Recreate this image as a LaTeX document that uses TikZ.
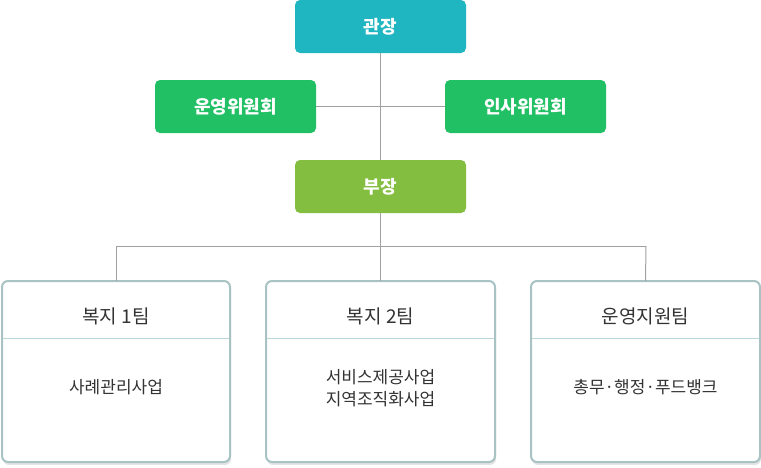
\documentclass[tikz,border=0pt]{standalone}
\usepackage{fontspec}
\setmainfont{Noto Sans CJK KR}
\usetikzlibrary{positioning}
\definecolor{cteal}{HTML}{1FB5C1}
\definecolor{cgreen}{HTML}{22C065}
\definecolor{clime}{HTML}{84BE41}
\definecolor{cline}{HTML}{A0A0A0}
\definecolor{cborder}{HTML}{A9C3C4}
\definecolor{cdiv}{HTML}{B9D6D8}
\definecolor{ctext}{HTML}{333333}
\definecolor{cshadow}{HTML}{E4E4E4}
\tikzset{
  topbox/.style={rounded corners=5pt, minimum width=171pt, minimum height=53pt, inner sep=0pt, text=white, font=\fontsize{18}{21}\selectfont\bfseries},
  sidebox/.style={topbox, minimum width=161pt},
  teambox/.style={draw=cborder, line width=2pt, rounded corners=6pt, fill=white},
  conn/.style={draw=cline, line width=1pt},
  divline/.style={draw=cdiv, line width=1pt},
  title/.style={text=ctext, font=\fontsize{19}{22}\selectfont},
  body/.style={text=ctext, font=\fontsize{17}{22}\selectfont, align=center},
}
\begin{document}
\begin{tikzpicture}[x=1pt,y=-1pt]
\useasboundingbox (0,0) rectangle (761,467);
% top nodes
\node[topbox, fill=cteal] (gwan) at (380.5,26.5) {관장};
\node[sidebox, fill=cgreen] (unyeong) at (235.5,106.5) {운영위원회};
\node[sidebox, fill=cgreen] (insa) at (525.5,106.5) {인사위원회};
\node[topbox, fill=clime] (bu) at (380.5,186.5) {부장};
% connectors
\coordinate (hl) at (116,246);
\coordinate (hc) at (380.5,246);
\coordinate (hr) at (646,246);
\draw[conn] (gwan.south) -- (bu.north);
\draw[conn] (unyeong.east) -- (insa.west);
\draw[conn] (bu.south) -- (hc);
\draw[conn] (hl) -- (hr);
% team boxes
\foreach \n/\xa/\xb in {t1/2/230, t2/266/495, t3/531/760}{
  \fill[cshadow, rounded corners=6pt] (\xa+1,283) rectangle (\xb+1,465);
  \draw[teambox] (\xa,281) rectangle (\xb,462);
  \coordinate (\n top) at ({(\xa+\xb)/2},281);
  \draw[divline] (\xa+1,338.5) -- (\xb-1,338.5);
}
\draw[conn] (hl) -- (t1top);
\draw[conn] (hc) -- (t2top);
\draw[conn] (hr) -- (t3top);
\node[title] (t1title) at (116,316.5) {복지 1팀};
\node[title] (t2title) at (380.5,316.5) {복지 2팀};
\node[title] (t3title) at (645.5,316.5) {운영지원팀};
\node[body] (t1body) at (116,387.5) {사례관리사업};
\node[body] (t2body) at (380.5,388) {서비스제공사업\\지역조직화사업};
\node[body] (t3body) at (645.5,387.5) {총무·행정·푸드뱅크};
\end{tikzpicture}
\end{document}
